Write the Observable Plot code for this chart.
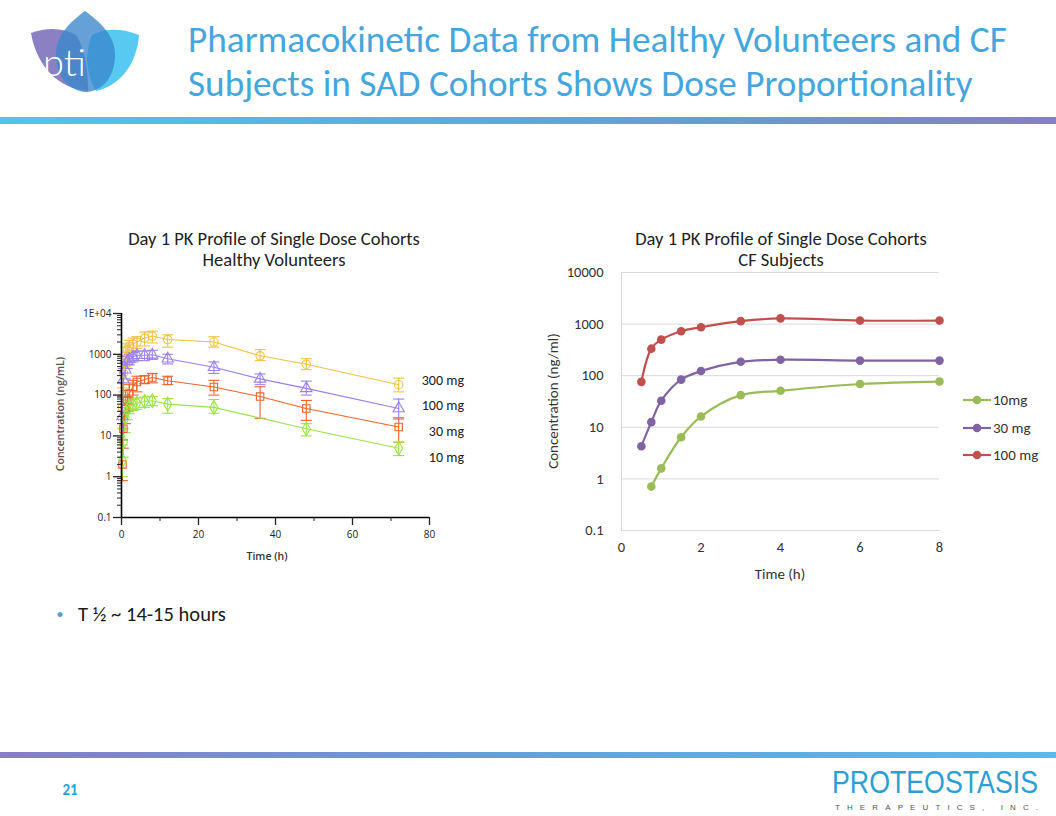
<!DOCTYPE html>
<html><head><meta charset="utf-8">
<script src="https://cdn.jsdelivr.net/npm/d3@7"></script>
<script src="https://cdn.jsdelivr.net/npm/@observablehq/plot@0.6"></script>
<style>
body{margin:0;background:#fff;}
#slide{position:relative;width:1056px;height:816px;overflow:hidden;background:#fff;font-family:Carlito,Calibri,Lato,sans-serif;}
.abs{position:absolute;white-space:nowrap;}
.ctr{transform:translate(-50%,-50%);}
</style></head><body>
<div id="slide">
  <svg class="abs" style="left:0;top:0" width="150" height="100">
    <path d="M31,33 C48,27 63,28 76,35 C83,45 88,65 88,91 C60,89 37,68 31,33 Z" fill="#8A80C2"/>
    <path d="M139,35 C122,28 105,28 92,35 C86,50 84,70 96,91 C122,85 137,62 139,35 Z" fill="#4FC7F0" opacity="0.95"/>
    <path d="M85,11 C70,22 56,35 56,55 C56,75 68,91 86,92 C104,91 115,75 115,55 C115,35 100,22 85,11 Z" fill="#3A86CC" opacity="0.78"/>
    <text x="43" y="76" font-size="38" font-family="Lato, sans-serif" font-weight="300" fill="#fff">pti</text>
  </svg>
  <div id="t1" class="abs" style="left:188px;top:18px;font-size:36px;line-height:44px;color:#44A6DC;">Pharmacokinetic Data from Healthy Volunteers and CF</div>
  <div id="t2" class="abs" style="left:188px;top:62px;font-size:36px;line-height:44px;color:#44A6DC;">Subjects in SAD Cohorts Shows Dose Proportionality</div>
  <div class="abs" style="left:0;top:117px;width:1056px;height:7px;background:linear-gradient(90deg,#4EC6EE,#5AA9DC 50%,#8680BE);"></div>

  <div id="lt1" class="abs ctr" style="left:274px;top:238px;font-size:16px;color:#222;">Day 1 PK Profile of Single Dose Cohorts</div>
  <div id="lt2" class="abs ctr" style="left:274px;top:259px;font-size:16px;color:#222;">Healthy Volunteers</div>
  <div id="rt1" class="abs ctr" style="left:781px;top:238px;font-size:16px;color:#222;">Day 1 PK Profile of Single Dose Cohorts</div>
  <div id="rt2" class="abs ctr" style="left:781px;top:259px;font-size:16px;color:#222;">CF Subjects</div>

  <div id="leftChart" class="abs" style="left:40px;top:295px;"></div>
  <div id="rightChart" class="abs" style="left:530px;top:262px;"></div>

  <div class="abs ctr" style="left:60px;top:414px;transform:translate(-50%,-50%) rotate(-90deg);font-family:'Open Sans',sans-serif;font-size:10.5px;font-weight:600;color:#555;">Concentration (ng/mL)</div>
  <div class="abs ctr" style="left:267px;top:556px;font-family:'Open Sans',sans-serif;font-size:10.5px;font-weight:600;color:#333;">Time (h)</div>
  <div id="doseLabels"></div>

  <div class="abs ctr" style="left:553px;top:401px;transform:translate(-50%,-50%) rotate(-90deg);font-size:15px;color:#333;">Concentration (ng/ml)</div>
  <div class="abs ctr" style="left:780px;top:574px;font-size:15px;color:#333;">Time (h)</div>
  <div id="legend"></div>

  <div class="abs ctr" style="left:60px;top:614px;font-size:14px;color:#5B9BD5;">•</div>
  <div id="bul" class="abs" style="left:78px;top:601px;font-size:20px;line-height:26px;color:#1a1a1a;">T ½ ~ 14-15 hours</div>

  <div class="abs" style="left:0;top:752px;width:1056px;height:6px;background:linear-gradient(90deg,#8680BE,#6C9ACF 40%,#56BCE7);"></div>
  <div class="abs ctr" style="left:70px;top:790px;font-size:15px;font-weight:600;color:#2CA1D7;">21</div>
  <div id="brand" class="abs" style="left:832px;top:764px;font-family:'Liberation Sans',sans-serif;font-size:32px;line-height:36px;color:#2B9FD4;transform-origin:0 0;">PROTEOSTASIS</div>
  <div id="brand2" class="abs" style="left:835px;top:803px;font-family:'Liberation Sans',sans-serif;font-size:8px;line-height:10px;color:#555;">THERAPEUTICS, INC.</div>
</div>
<script>
// ---- Healthy volunteers (left) ----
const hvTimes   = [0.25, 0.5, 1, 1.5, 2, 3, 4, 6, 8, 12, 24, 36, 48, 72];
const hv10Times = [0.25, 0.5, 1, 1.5, 2, 3, 4, 6, 8, 12, 24, 48, 72];
const hv300   = [50, 350, 900, 1300, 1600, 1800, 2000, 2500, 2800, 2300, 2000, 920, 570, 180];
const hv300Lo = [15, 120, 500, 900, 1100, 1200, 1400, 1600, 1900, 1500, 1500, 700, 420, 120];
const hv300Hi = [150, 900, 1500, 1800, 2200, 2500, 2700, 3500, 3700, 3000, 2700, 1300, 780, 260];
const hv100   = [30, 240, 420, 670, 750, 870, 950, 950, 970, 780, 480, 250, 146, 47];
const hv100Lo = [8, 100, 250, 450, 550, 650, 700, 700, 750, 580, 340, 180, 100, 28];
const hv100Hi = [90, 450, 650, 900, 1000, 1100, 1200, 1200, 1250, 1000, 650, 330, 220, 80];
const hv30    = [2, 15, 45, 75, 110, 160, 210, 240, 270, 225, 158, 92, 47, 16.5];
const hv30Lo  = [0.8, 5, 20, 40, 60, 100, 120, 190, 200, 180, 100, 27, 24, 7];
const hv30Hi  = [8, 40, 90, 130, 180, 230, 290, 300, 340, 290, 230, 160, 74, 26];
const hv10    = [2.5, 7, 28, 42, 52, 57, 63, 70, 73, 60, 50, 15, 5];
const hv10Lo  = [1, 3, 12, 25, 35, 42, 45, 50, 55, 36, 36, 10, 3.3];
const hv10Hi  = [6, 15, 50, 65, 75, 80, 85, 90, 92, 82, 78, 20, 7];
const hvNames   = ["300 mg", "100 mg", "30 mg", "10 mg"];
const hvColors  = ["#F2C23E", "#9B80E8", "#E8652B", "#9BE34B"];
const hvSymbols = ["circle", "triangle", "square", "diamond"];
const hvXTicks  = [0, 20, 40, 60, 80];
const hvXMinor  = [10, 30, 50, 70];

// ---- CF subjects (right) ----
const cfTimes = [0.5, 0.75, 1, 1.5, 2, 3, 4, 6, 8];
const cf10  = [null, 0.71, 1.6, 6.4, 16.2, 42, 51, 69, 77];
const cf30  = [4.3, 12.6, 32.8, 84, 123, 186, 204, 196, 196];
const cf100 = [76, 334, 500, 728, 870, 1140, 1290, 1170, 1170];
const cfNames  = ["10mg", "30 mg", "100 mg"];
const cfColors = ["#9BBB59", "#8064A2", "#C0504D"];
const cfXTicks = [0, 2, 4, 6, 8];

const yTicks = [0.1, 1, 10, 100, 1000, 10000];

// build tables
const hvSets = [
  [hvTimes, hv300, hv300Lo, hv300Hi],
  [hvTimes, hv100, hv100Lo, hv100Hi],
  [hvTimes, hv30, hv30Lo, hv30Hi],
  [hv10Times, hv10, hv10Lo, hv10Hi]
];
const hvRows = hvSets.flatMap(([t, m, lo, hi], k) =>
  t.map((tt, i) => ({series: hvNames[k], t: tt, m: m[i], lo: lo[i], hi: hi[i]})));
const cfRows = [cf10, cf30, cf100].flatMap((vals, k) =>
  cfTimes.map((t, i) => ({series: cfNames[k], t, c: vals[i]})).filter(d => d.c != null));

const minorY = d3.range(-1, 4).flatMap(e => d3.range(2, 10).map(k => k * Math.pow(10, e)));
const cap = {draw(ctx, size) { const r = Math.sqrt(size / Math.PI); ctx.moveTo(-r, 0); ctx.lineTo(r, 0); }};

const left = Plot.plot({
  width: 430, height: 280, marginLeft: 81, marginRight: 41, marginTop: 18, marginBottom: 58,
  x: {domain: [0, 80]},
  y: {type: "log", domain: [0.1, 1e4]},
  color: {domain: hvNames, range: hvColors},
  symbol: {domain: hvNames, range: hvSymbols},
  style: {fontFamily: "'Open Sans',sans-serif", fontSize: "10px", color: "#222", background: "transparent", overflow: "visible"},
  marks: [
    Plot.ruleX(hvRows, {x: "t", y1: "lo", y2: "hi", stroke: "series", strokeWidth: 1.1}),
    Plot.dot(hvRows, {x: "t", y: "lo", symbol: cap, r: 5.5, stroke: "series", fill: "none", strokeWidth: 1.1}),
    Plot.dot(hvRows, {x: "t", y: "hi", symbol: cap, r: 5.5, stroke: "series", fill: "none", strokeWidth: 1.1}),
    Plot.line(hvRows, {x: "t", y: "m", z: "series", stroke: "series", strokeWidth: 1.1}),
    Plot.dot(hvRows, {x: "t", y: "m", symbol: "series", r: 4.2, stroke: "series", fill: "none", strokeWidth: 1.1}),
    Plot.ruleX([0], {stroke: "#000", strokeWidth: 1.6}),
    Plot.ruleY([0.1], {stroke: "#000", strokeWidth: 1.6}),
    Plot.axisY({ticks: yTicks, tickSize: 8, tickPadding: 2, label: null, strokeWidth: 1.3,
      tickFormat: d => d === 10000 ? "1E+04" : String(d)}),
    Plot.axisY({ticks: minorY, tickSize: 4, label: null, tickFormat: () => ""}),
    Plot.axisX({ticks: hvXTicks, tickSize: 8, tickPadding: 5, label: null, strokeWidth: 1.3}),
    Plot.axisX({ticks: hvXMinor, tickSize: 4, label: null, tickFormat: () => ""})
  ]
});
document.getElementById("leftChart").append(left);

const right = Plot.plot({
  width: 430, height: 325, marginLeft: 91, marginRight: 21, marginTop: 10, marginBottom: 57,
  x: {domain: [0, 8]},
  y: {type: "log", domain: [0.1, 1e4]},
  color: {domain: cfNames, range: cfColors},
  style: {fontFamily: "Carlito,Calibri,Lato,sans-serif", fontSize: "14.5px", color: "#333", background: "transparent", overflow: "visible"},
  marks: [
    Plot.gridY({ticks: yTicks, stroke: "#D9D9D9", strokeOpacity: 1, strokeWidth: 1}),
    Plot.ruleX([0], {stroke: "#D9D9D9", strokeWidth: 1}),
    Plot.axisY({ticks: yTicks, tickSize: 0, tickPadding: 18, label: null, tickFormat: d => String(d)}),
    Plot.axisX({ticks: cfXTicks, tickSize: 0, tickPadding: 11, label: null}),
    Plot.line(cfRows, {x: "t", y: "c", z: "series", stroke: "series", strokeWidth: 2.2, curve: "catmull-rom"}),
    Plot.dot(cfRows, {x: "t", y: "c", fill: "series", r: 4.3})
  ]
});
document.getElementById("rightChart").append(right);

// dose labels (left chart annotation)
const doseTop = [381, 406, 432, 458];
const dl = document.getElementById("doseLabels");
hvNames.forEach((n, i) => {
  const d = document.createElement("div");
  d.className = "abs";
  d.style.cssText = `right:${1056-464}px;top:${doseTop[i]-9}px;font-size:14px;line-height:18px;color:#222;`;
  d.textContent = n;
  dl.append(d);
});

// legend (right chart)
const lg = document.getElementById("legend");
cfNames.forEach((n, i) => {
  const d = document.createElement("div");
  d.className = "abs";
  d.style.cssText = `left:962px;top:${400 + i*27.5 - 10}px;height:20px;display:flex;align-items:center;font-size:15px;color:#333;`;
  d.innerHTML = `<svg width="30" height="20"><line x1="1" x2="29" y1="10" y2="10" stroke="${cfColors[i]}" stroke-width="2.2"/><circle cx="15" cy="10" r="4.3" fill="${cfColors[i]}"/></svg><span style="margin-left:1px">${n}</span>`;
  lg.append(d);
});

// fit text widths
function fit(id, target) {
  const el = document.getElementById(id);
  const fs = parseFloat(getComputedStyle(el).fontSize);
  const w = el.getBoundingClientRect().width;
  const nf = fs * target / w;
  el.style.fontSize = nf + "px";
  return nf;
}
fit("t1", 819); fit("t2", 785);
const lf = fit("lt1", 292); document.getElementById("lt2").style.fontSize = lf + "px";
const rf = fit("rt1", 292); document.getElementById("rt2").style.fontSize = rf + "px";
fit("bul", 148);
// brand logo: condense horizontally, spread subtitle letters
const brand = document.getElementById("brand");
brand.style.transform = `scaleX(${206 / brand.getBoundingClientRect().width})`;
const brand2 = document.getElementById("brand2");
const b2 = brand2.getBoundingClientRect().width;
brand2.style.letterSpacing = ((203 - b2) / (brand2.textContent.length - 1)) + "px";
</script>
</body></html>
